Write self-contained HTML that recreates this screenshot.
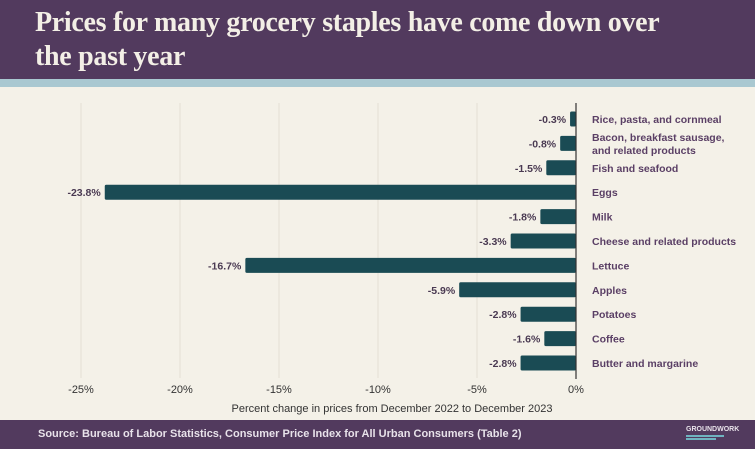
<!DOCTYPE html>
<html><head><meta charset="utf-8"><style>
body{margin:0;width:755px;height:449px;overflow:hidden;background:#f4f1e8;font-family:"Liberation Sans",sans-serif}
#hdr{position:absolute;left:0;top:0;width:755px;height:79px;background:#523a5e}
#hdr h1{margin:0;position:absolute;left:35px;top:6px;font-family:"Liberation Serif",serif;font-weight:bold;font-size:28px;line-height:34px;color:#f3efe6;letter-spacing:-0.3px}
#band{position:absolute;left:0;top:79px;width:755px;height:8px;background:#a9c8d1}
#ftr{position:absolute;left:0;top:420px;width:755px;height:29px;background:#523a5e}
#ftr .src{position:absolute;left:38px;top:8px;font-size:11px;font-weight:bold;color:#e8e2ea}
#ftr .logo{position:absolute;left:686px;top:6px;font-size:7px;font-weight:bold;color:#e8e2ea}
</style></head><body>
<div id="hdr"><h1>Prices for many grocery staples have come down over<br>the past year</h1></div>
<div id="band"></div>
<svg id="chart" width="755" height="449" style="position:absolute;left:0;top:0"></svg>
<div id="ftr"><div class="src">Source: Bureau of Labor Statistics, Consumer Price Index for All Urban Consumers (Table 2)</div><div class="logo">GROUNDWORK<div style="width:38px;height:2px;background:#6fb3c0;margin-top:2px"></div><div style="width:30px;height:2px;background:#6fb3c0;margin-top:1px"></div></div></div>
<script>
const categories=["Rice, pasta, and cornmeal","Bacon, breakfast sausage,|and related products","Fish and seafood","Eggs","Milk","Cheese and related products","Lettuce","Apples","Potatoes","Coffee","Butter and margarine"];
const values=[-0.3,-0.8,-1.5,-23.8,-1.8,-3.3,-16.7,-5.9,-2.8,-1.6,-2.8];
const ticks=[-25,-20,-15,-10,-5,0];
const NS="http://www.w3.org/2000/svg";
const svg=document.getElementById('chart');
const x=v=>576+v*19.8;
const y=i=>119+i*24.4;
function mk(t,a,txt){const e=document.createElementNS(NS,t);for(const k in a)e.setAttribute(k,a[k]);if(txt!==undefined)e.textContent=txt;svg.appendChild(e);return e;}
ticks.forEach(t=>{
 if(t!==0){const g=mk('line',{x1:x(t),x2:x(t),y1:103,y2:378,stroke:'#e4e0d4','stroke-width':1});
 
 }
 const l=mk('text',{x:x(t),y:393,'text-anchor':'middle','font-size':11,fill:'#333'},t+'%');
 
 
});
values.forEach((v,i)=>{
 const b=mk('rect',{x:x(v),y:y(i)-7.5,width:x(0)-x(v),height:15,rx:1.5,fill:'#1a4b54'});
 
 
 const vl=mk('text',{x:x(v)-4,y:y(i)+4,'text-anchor':'end','font-size':10.5,'font-weight':'bold',fill:'#4a3a52'},v.toFixed(1)+'%');
 
 
 const parts=categories[i].split('|');
 parts.forEach((p,j)=>{
  const c=mk('text',{x:592,y:y(i)+4+(j-(parts.length-1)/2)*13,'font-size':10.5,'font-weight':'bold',fill:'#5a3f65'},p);
  
  
 });
});
const z=mk('line',{x1:576,x2:576,y1:103,y2:379,stroke:'#333','stroke-width':1.2});


const at=mk('text',{x:392,y:412,'text-anchor':'middle','font-size':11,fill:'#333'},'Percent change in prices from December 2022 to December 2023');


</script>
</body></html>
